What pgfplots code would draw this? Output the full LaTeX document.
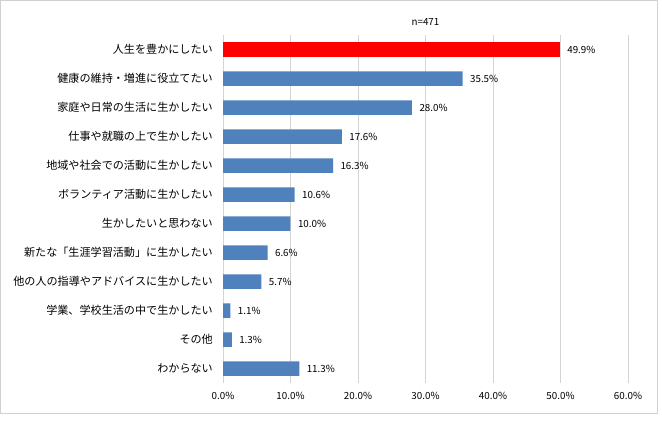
\documentclass[border=0pt]{standalone}
\usepackage{pgfplots}
\pgfplotsset{compat=1.18}
\usepackage{fontspec}
\setmainfont{Noto Sans CJK JP}
\definecolor{barblue}{HTML}{4F81BD}
\definecolor{barred}{HTML}{FF0000}
\begin{document}
\begin{tikzpicture}
\useasboundingbox (0bp,0bp) rectangle (662bp,436bp);
\draw[draw=black!18, line width=0.9bp] (0.5bp,23bp) rectangle (657bp,435.5bp);
\begin{axis}[
  at={(223bp,53bp)}, anchor=south west,
  scale only axis, width=405bp, height=348bp,
  xbar, xmin=0, xmax=60, ymin=-0.5, ymax=11.5, y dir=reverse,
  /pgf/number format/assume math mode=true,
  ytick={0,...,11},
  yticklabels={人生を豊かにしたい,健康の維持・増進に役立てたい,家庭や日常の生活に生かしたい,仕事や就職の上で生かしたい,地域や社会での活動に生かしたい,ボランティア活動に生かしたい,生かしたいと思わない,新たな「生涯学習活動」に生かしたい,他の人の指導やアドバイスに生かしたい,学業、学校生活の中で生かしたい,その他,わからない},
  yticklabel style={font=\fontsize{11.1bp}{13bp}\selectfont, inner sep=0pt, xshift=-10bp},
  xtick={0,10,...,60},
  xticklabel={\pgfmathprintnumber[fixed,fixed zerofill,precision=1]{\tick}\%},
  xticklabel style={font=\fontsize{9.8bp}{11bp}\selectfont, inner sep=0pt, yshift=-9bp},
  major tick length=0pt,
  axis line style={draw=none},
  xmajorgrids, grid style={draw=black!17, line width=0.9bp},
  title={n=471},
  title style={font=\fontsize{9.8bp}{11bp}\selectfont, at={(0.5,1)}, anchor=base, yshift=4bp},
  bar width=0.5,
  point meta=x,
  nodes near coords={\pgfmathprintnumber[fixed,fixed zerofill,precision=1]{\pgfplotspointmeta}\%},
  nodes near coords style={font=\fontsize{9.8bp}{11bp}\selectfont, anchor=west, xshift=4bp, text=black},
]
\addplot[fill=barred, draw=none, bar shift=0] coordinates {(49.9,0)};
\addplot[fill=barblue, draw=none, bar shift=0] coordinates {
(35.5,1) (28.0,2) (17.6,3) (16.3,4) (10.6,5) (10.0,6) (6.6,7) (5.7,8) (1.1,9) (1.3,10) (11.3,11)};
\end{axis}
\end{tikzpicture}
\end{document}
